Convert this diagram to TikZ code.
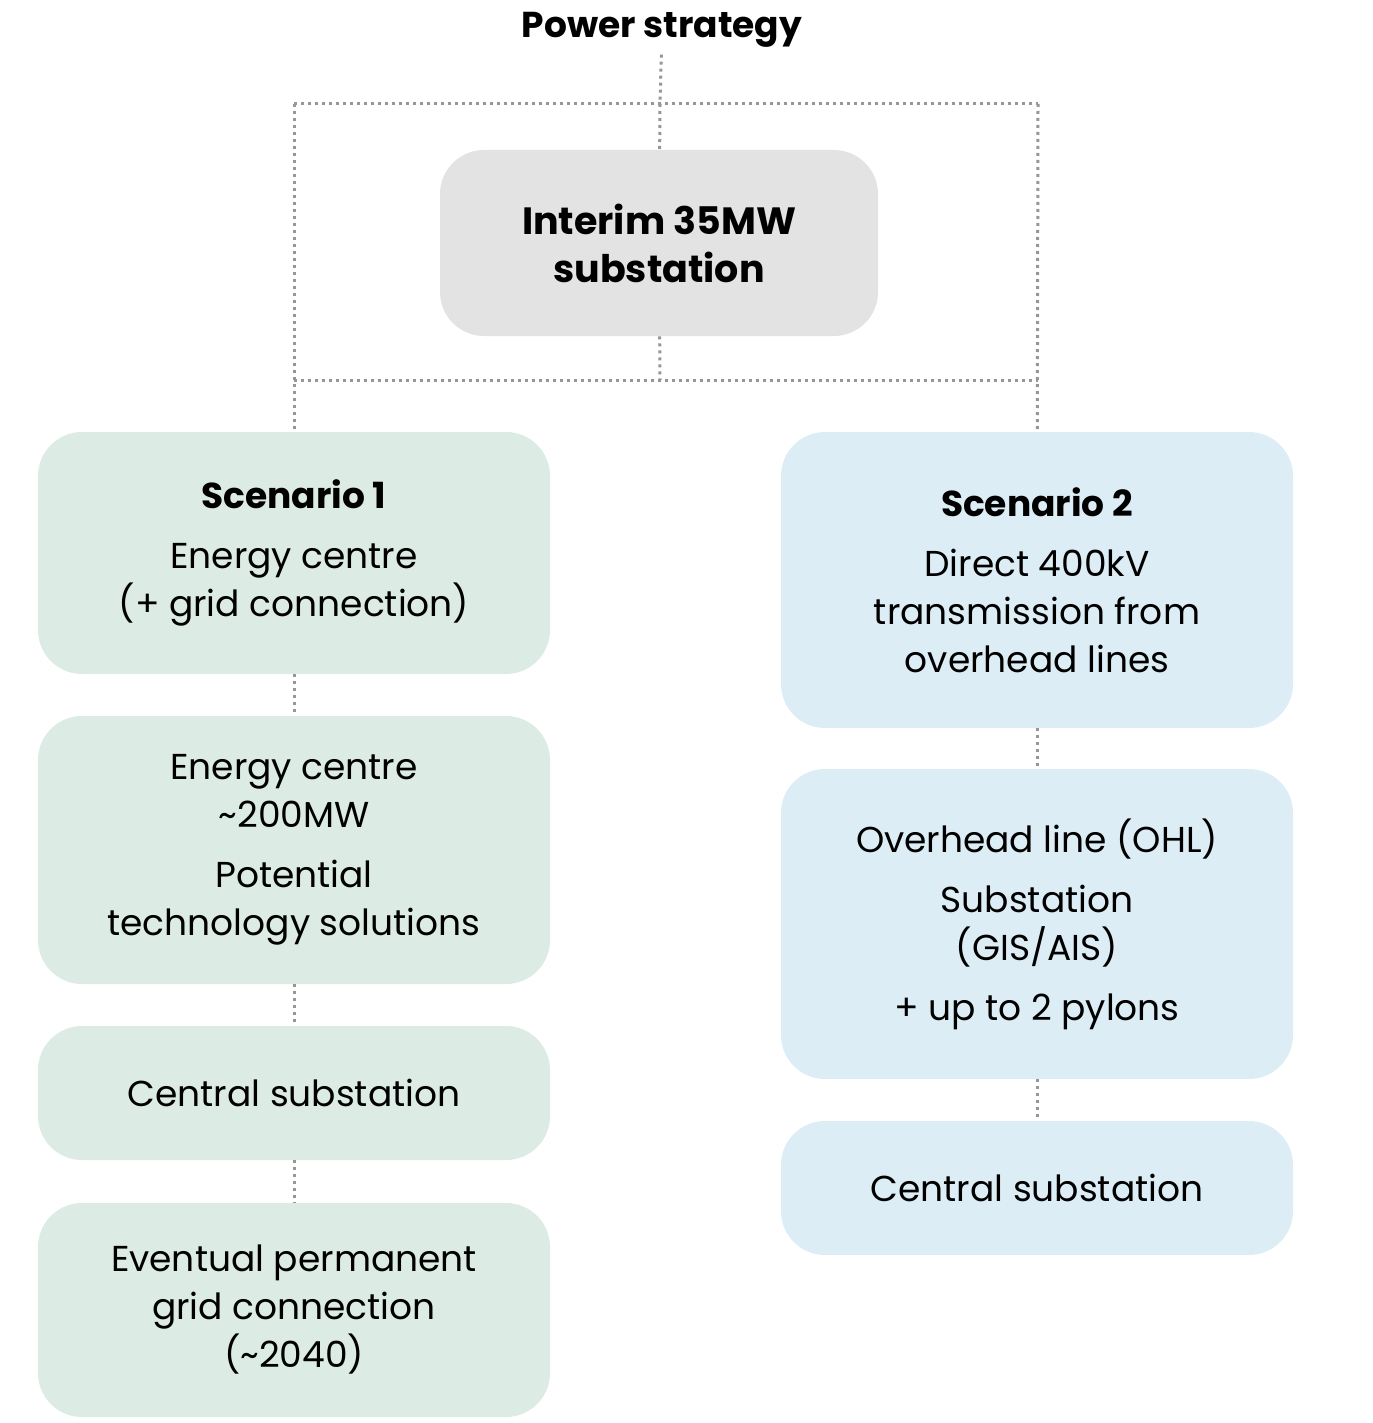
\documentclass[tikz,border=0pt]{standalone}
\usepackage{fontspec}
\setmainfont{Poppins}
\definecolor{greenbox}{RGB}{220,235,228}
\definecolor{bluebox}{RGB}{221,237,245}
\definecolor{greybox}{RGB}{227,227,227}
\definecolor{dotline}{RGB}{150,150,150}
\tikzset{
  box/.style={rectangle,rounded corners=22pt,minimum width=256pt,align=center,inner sep=0pt,text=black,
    font=\fontsize{18}{24}\selectfont},
  sone/.style={box,fill=greenbox},
  stwo/.style={box,fill=bluebox},
  link/.style={dotline,line width=1.5pt,dotted},
}
\begin{document}
\begin{tikzpicture}[x=0.5pt,y=-0.5pt]
\useasboundingbox (0,0) rectangle (1372,1423);

%title and interim box
\node (title) at (662,30) {\fontsize{18}{22}\selectfont\bfseries Power strategy};
\node[box,fill=greybox,minimum width=219pt,minimum height=93pt,font=\fontsize{19}{24}\selectfont\bfseries] (interim) at (659,243) {Interim 35MW\\substation};

%frame corners
\coordinate (tl) at (294,104);
\coordinate (tm) at (660,104);
\coordinate (tr) at (1038,104);
\coordinate (bl) at (294,380);
\coordinate (bm) at (660,380);
\coordinate (br) at (1038,380);

%scenario 1
\node[sone,minimum height=121pt] (sa) at (294,553) {{\bfseries Scenario 1}\\[6pt]Energy centre\\(+ grid connection)};
\node[sone,minimum height=134pt] (sb) at (294,850) {Energy centre\\\textasciitilde200MW\\[6pt]Potential\\technology solutions};
\node[sone,minimum height=67pt] (sc) at (294,1093) {Central substation};
\node[sone,minimum height=107pt] (sd) at (294,1310) {Eventual permanent\\grid connection\\(\textasciitilde2040)};

%scenario 2
\node[stwo,minimum height=148pt] (ta) at (1037,580) {{\bfseries Scenario 2}\\[6pt]Direct 400kV\\transmission from\\overhead lines};
\node[stwo,minimum height=155pt] (tb) at (1037,924) {Overhead line (OHL)\\[6pt]Substation\\(GIS/AIS)\\[6pt]+ up to 2 pylons};
\node[stwo,minimum height=67pt] (tc) at (1037,1188) {Central substation};

%dotted links
\draw[link] (title) -- (tm);
\draw[link] (tl) -- (tr);
\draw[link] (tm) -- (interim);
\draw[link] (interim) -- (bm);
\draw[link] (bl) -- (br);
\draw[link] (tl) -- (sa);
\draw[link] (tr) -- (ta);
\draw[link] (sa) -- (sb);
\draw[link] (sb) -- (sc);
\draw[link] (sc) -- (sd);
\draw[link] (ta) -- (tb);
\draw[link] (tb) -- (tc);
\end{tikzpicture}
\end{document}
